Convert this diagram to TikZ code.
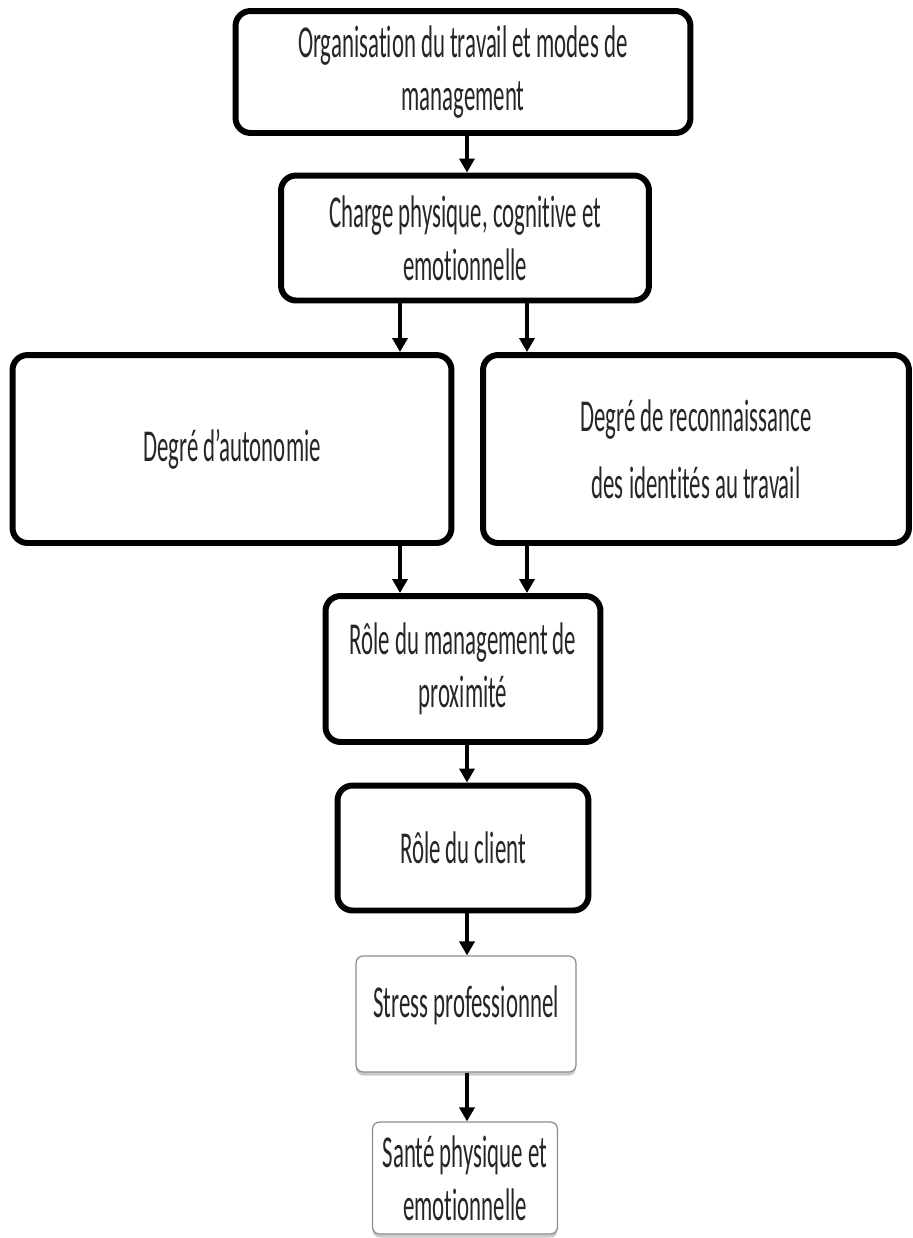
\documentclass[tikz,border=0pt]{standalone}
\usepackage{fontspec}
\setmainfont[FakeStretch=0.5,Ligatures=NoCommon]{Carlito}
\usetikzlibrary{arrows.meta}
\usetikzlibrary{shadows}

\begin{document}
\begin{tikzpicture}[%%
  x=0.02cm,y=-0.02cm,%%
  boxStyle/.style={draw,line width=3.4pt,rounded corners=0.3cm,align=center,inner sep=0pt,%%
    text=black!85,font=\fontsize{26pt}{30pt}\selectfont},%%
  thinBoxStyle/.style={draw=black!45,line width=0.7pt,rounded corners=0.14cm,align=center,inner sep=0pt,%%
    fill=white,text=black!85,font=\fontsize{26pt}{30pt}\selectfont,%%
    drop shadow={shadow xshift=0pt,shadow yshift=-0.07cm,opacity=0.35,fill=black!60}},%%
  arrowStyle/.style={-{Triangle[width=0.3cm,length=0.28cm]},line width=2.2pt}%%
]
%%
%% The page, margins included (coordinates are pixels of the reference).
\useasboundingbox (0,0) rectangle (913,1238);
%% The lanes of the connectors.
\coordinate (midLane) at (467,0);
\coordinate (leftLane) at (400,0);
\coordinate (rightLane) at (527,0);
%%
%% The chain of boxes.
\node[boxStyle,minimum width=9.1cm,minimum height=2.44cm] (organisation) at (463,72)
  {Organisation du travail et modes de\\management};
\node[boxStyle,minimum width=7.36cm,minimum height=2.5cm] (charge) at (465,238)
  {Charge physique, cognitive et\\emotionnelle};
\node[boxStyle,minimum width=8.78cm,minimum height=3.76cm] (autonomie) at (232,449)
  {Degré d’autonomie};
\node[boxStyle,minimum width=8.52cm,minimum height=3.76cm,%%
  font=\fontsize{26pt}{38pt}\selectfont] (reconnaissance) at (696,449)
  {Degré de reconnaissance\\des identités au travail};
\node[boxStyle,minimum width=5.5cm,minimum height=2.92cm] (proximite) at (463,669)
  {Rôle du management de\\proximité};
\node[boxStyle,minimum width=5.02cm,minimum height=2.5cm] (client) at (463,848)
  {Rôle du client};
\node[thinBoxStyle,minimum width=4.4cm,minimum height=2.32cm,text depth=0.5cm] (stress) at (466,1014)
  {Stress professionnel};
\node[thinBoxStyle,minimum width=3.7cm,minimum height=2.24cm] (sante) at (465,1178)
  {Santé physique et\\emotionnelle};
%%
%% The connectors.
\draw[arrowStyle] (organisation.south -| midLane) -- (charge.north -| midLane);
\draw[arrowStyle] (charge.south -| leftLane) -- (autonomie.north -| leftLane);
\draw[arrowStyle] (charge.south -| rightLane) -- (reconnaissance.north -| rightLane);
\draw[arrowStyle] (autonomie.south -| leftLane) -- (proximite.north -| leftLane);
\draw[arrowStyle] (reconnaissance.south -| rightLane) -- (proximite.north -| rightLane);
\draw[arrowStyle] (proximite.south -| midLane) -- (client.north -| midLane);
\draw[arrowStyle] (client.south -| midLane) -- (stress.north -| midLane);
\draw[arrowStyle] (stress.south -| midLane) -- (sante.north -| midLane);
\end{tikzpicture}
\end{document}
